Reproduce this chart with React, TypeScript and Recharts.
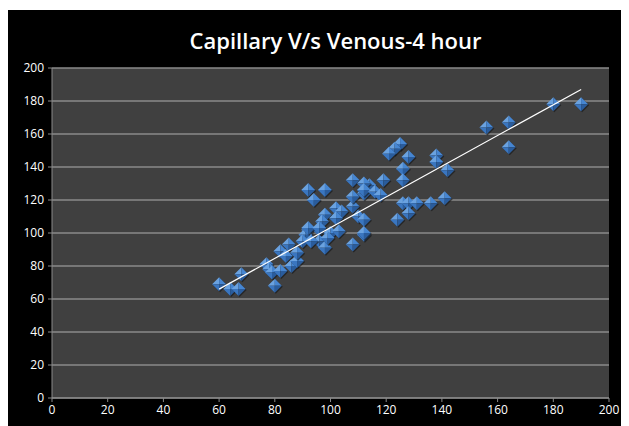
import { ScatterChart, Scatter, XAxis, YAxis, CartesianGrid } from 'recharts'

const capillary = [
  60, 64, 67, 68, 80, 77, 78, 79, 82, 82, 85, 84, 86, 88, 88, 92, 91, 90, 96, 96, 98, 100,
  92, 98, 94, 108, 112, 102, 104, 98, 97, 102, 108, 110, 112, 108, 92, 96, 103, 99, 93,
  125, 123, 121, 128, 138, 138, 142, 126, 126, 119, 108, 114, 112, 112, 116, 118,
  126, 128, 131, 136, 141, 128, 124, 112, 112,
  156, 164, 164, 180, 190,
]
const venous = [
  69, 66, 66, 75, 68, 81, 78, 76, 77, 89, 93, 86, 80, 83, 88, 102, 99, 95, 102, 95, 91, 100,
  126, 126, 120, 132, 124, 115, 113, 111, 107, 109, 116, 110, 99, 93, 103, 103, 101, 97, 95,
  154, 151, 148, 146, 147, 143, 138, 139, 132, 132, 122, 129, 130, 126, 125, 123,
  118, 118, 118, 118, 121, 112, 108, 108, 100,
  164, 167, 152, 178, 178,
]
const trendX = [60, 190]
const trendY = [66, 187]
const axisTicks = [0, 20, 40, 60, 80, 100, 120, 140, 160, 180, 200]

const points = capillary.map((x, i) => ({ x, y: venous[i] }))
const trend = trendX.map((x, i) => ({ x, y: trendY[i] }))

const FONT = '"Open Sans", "DejaVu Sans", sans-serif'

function Diamond(props: any) {
  const { cx, cy } = props
  if (cx == null || cy == null) return null
  const r = 7
  return (
    <g>
      <polygon
        points={`${cx + 1},${cy - r + 1} ${cx + r + 1},${cy + 1} ${cx + 1},${cy + r + 1} ${cx - r + 1},${cy + 1}`}
        fill="#141414"
        opacity={0.6}
      />
      <polygon points={`${cx},${cy - r} ${cx},${cy} ${cx - r},${cy}`} fill="#6aa2e0" />
      <polygon points={`${cx},${cy - r} ${cx + r},${cy} ${cx},${cy}`} fill="#4686d2" />
      <polygon points={`${cx - r},${cy} ${cx},${cy} ${cx},${cy + r}`} fill="#3a76c0" />
      <polygon points={`${cx + r},${cy} ${cx},${cy + r} ${cx},${cy}`} fill="#2a5c9c" />
    </g>
  )
}

const NoDot = () => null

export default function App() {
  return (
    <div style={{ marginTop: 2, width: 621, height: 416, background: '#000', position: 'relative' }}>
      <div
        style={{
          position: 'absolute',
          top: 16,
          left: 0,
          width: 655,
          textAlign: 'center',
          color: '#fff',
          fontFamily: FONT,
          fontWeight: 600,
          fontSize: 22,
          lineHeight: '28px',
        }}
      >
        Capillary V/s Venous-4 hour
      </div>
      <ScatterChart width={621} height={416} margin={{ top: 58, right: 20, bottom: 0, left: 10 }}>
        <CartesianGrid vertical={false} fill="#404040" stroke="#8a8a8a" strokeWidth={1.5} />
        <XAxis
          type="number"
          dataKey="x"
          domain={[0, 200]}
          ticks={axisTicks}
          height={28}
          stroke="#8a8a8a"
          tickSize={4}
          tickMargin={3}
          tick={{ fill: '#ffffff', stroke: 'none', fontSize: 12, fontFamily: FONT }}
        />
        <YAxis
          type="number"
          dataKey="y"
          domain={[0, 200]}
          ticks={axisTicks}
          width={34}
          stroke="#8a8a8a"
          tickSize={4}
          tickMargin={4}
          tick={{ fill: '#ffffff', stroke: 'none', fontSize: 12, fontFamily: FONT }}
        />
        <Scatter data={points} shape={Diamond} isAnimationActive={false} />
        <Scatter
          data={trend}
          line={{ stroke: '#ffffff', strokeWidth: 1.2 }}
          shape={NoDot}
          legendType="none"
          isAnimationActive={false}
        />
      </ScatterChart>
    </div>
  )
}
